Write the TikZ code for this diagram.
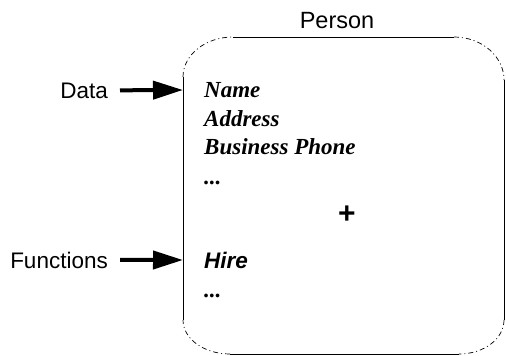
\documentclass[tikz,border=0pt]{standalone}
\usepackage{fontspec}
\setmainfont{Liberation Serif}
\setsansfont{Liberation Sans}
\usetikzlibrary{arrows.meta}
\begin{document}
\begin{tikzpicture}[x=1pt,y=-1pt,
  lbl/.style={font=\sffamily\fontsize{22.5}{26}\selectfont, inner sep=0pt, anchor=base east},
  attr/.style={font=\rmfamily\bfseries\itshape\fontsize{23}{28}\selectfont, inner sep=0pt, anchor=base west},
  func/.style={font=\sffamily\bfseries\itshape\fontsize{22.5}{26}\selectfont, inner sep=0pt, anchor=base west},
  edge/.style={line width=0.9pt},
  corner/.style={line width=0.7pt, dash pattern=on 5pt off 3pt on 1pt off 3pt},
  arr/.style={line width=4pt, shorten <=12pt, -{Triangle[length=30pt,width=18pt]}}]
\useasboundingbox (0,0) rectangle (506,356);
% box
\draw[edge] (233,37) -- (454,37);
\draw[edge] (504,80) -- (504,320);
\draw[edge] (459,354) -- (230,354);
\draw[edge] (183,320) -- (183,77);
\draw[corner] (183,77) .. controls (183,54.9) and (205.4,37) .. (233,37);
\draw[corner] (454,37) .. controls (481.6,37) and (504,56.3) .. (504,80);
\draw[corner] (504,320) .. controls (504,338.8) and (483.9,354) .. (459,354);
\draw[corner] (230,354) .. controls (204,354) and (183,338.8) .. (183,320);
% title
\node[font=\sffamily\fontsize{23.5}{27}\selectfont, inner sep=0pt, anchor=base] (title) at (337,28) {Person};
% contents
\node[attr] (name) at (204,97) {Name};
\node[attr] (addr) at (204,126) {Address};
\node[attr] (phone) at (204,154) {Business Phone};
\node[attr] (dots1) at (204,184) {...};
\node[font=\sffamily\bfseries\fontsize{30}{34}\selectfont, inner sep=0pt] (plus) at (347,215) {+};
\node[func] (hire) at (204,268) {Hire};
\node[attr] (dots2) at (204,297) {...};
% labels and arrows
\node[lbl] (data) at (108,98) {Data};
\node[lbl] (funcs) at (108,268) {Functions};
\coordinate (dataIn) at (183,90);
\coordinate (funcIn) at (183,260);
\draw[arr] (data.east) -- (dataIn);
\draw[arr] (funcs.east) -- (funcIn);
\end{tikzpicture}
\end{document}
